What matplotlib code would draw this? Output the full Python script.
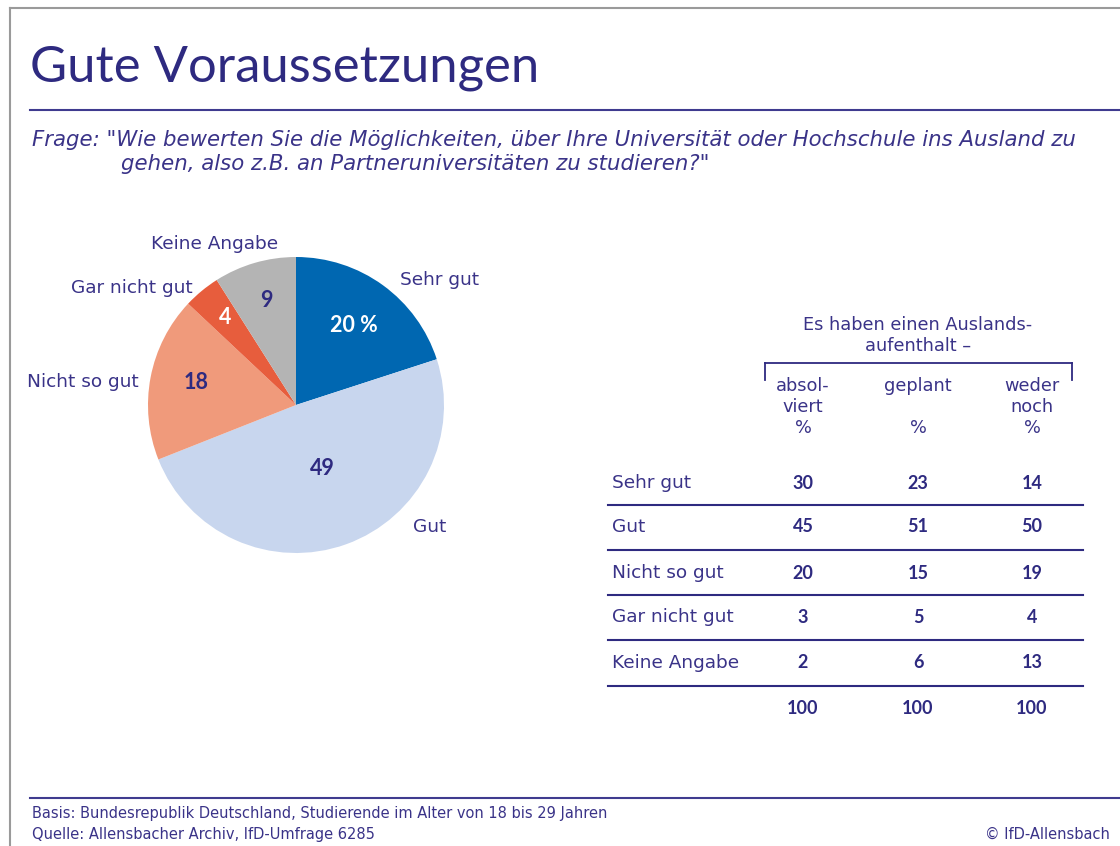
import matplotlib
matplotlib.use("Agg")
import matplotlib.pyplot as plt
from matplotlib.lines import Line2D

# ---------------- data ----------------
categories = ["Sehr gut", "Gut", "Nicht so gut", "Gar nicht gut", "Keine Angabe"]
pie_values = [20, 49, 18, 4, 9]
pie_labels_inner = ["20 %", "49", "18", "4", "9"]
col_headers = [["absol-", "viert", "%"], ["geplant", "", "%"], ["weder", "noch", "%"]]
absolviert = [30, 45, 20, 3, 2]
geplant = [23, 51, 15, 5, 6]
weder_noch = [14, 50, 19, 4, 13]
totals = [100, 100, 100]

pie_colors = ["#0067b1", "#c8d6ee", "#f09a7b", "#e75d3d", "#b4b4b4"]
inner_text_colors = ["white", "#2e2a80", "#2e2a80", "white", "#2e2a80"]
TXT = "#3a3388"
DARK = "#2e2a80"
REG = "DejaVu Sans"
NUM = "Lato"

W, H = 1120, 846
fig = plt.figure(figsize=(W / 100, H / 100), dpi=100)
plt.rcParams["font.family"] = ["DejaVu Sans"]

def fx(x):
    return x / W

def fy(y):
    return 1 - y / H

def text(x, y, s, **kw):
    fig.text(fx(x), fy(y), s, **kw)

def hline(x0, x1, y, color=DARK, lw=1.5):
    fig.add_artist(Line2D([fx(x0), fx(x1)], [fy(y), fy(y)], color=color, lw=lw))

def vline(x, y0, y1, color=DARK, lw=1.5):
    fig.add_artist(Line2D([fx(x), fx(x)], [fy(y0), fy(y1)], color=color, lw=lw))

# outer frame
hline(10, W, 8, color="#9a9a9a", lw=1.5)
vline(10, 8, H, color="#9a9a9a", lw=1.5)

# title
text(30, 68, "Gute Voraussetzungen", fontsize=36.5, color=DARK, va="center", ha="left",
     family="Lato", fontweight="normal")
hline(30, W, 110, color="#3f3b8f", lw=1.5)

# question
text(32, 140, 'Frage: "Wie bewerten Sie die Möglichkeiten, über Ihre Universität oder Hochschule ins Ausland zu',
     fontsize=15.3, style="italic", color=TXT, va="center", family=REG)
text(121, 164, 'gehen, also z.B. an Partneruniversitäten zu studieren?"',
     fontsize=15.3, style="italic", color=TXT, va="center", family=REG)

# ---------------- pie ----------------
cx, cy, r = 296, 405, 148
ax = fig.add_axes([fx(cx - r), fy(cy + r), 2 * r / W, 2 * r / H])
wedges, _ = ax.pie(pie_values, colors=pie_colors, startangle=90, counterclock=False,
                   radius=1, wedgeprops=dict(linewidth=0))
ax.set_xlim(-1, 1)
ax.set_ylim(-1, 1)
ax.set_aspect("auto")
ax.axis("off")

inner_pos = [(354, 325), (322, 468), (196, 382), (225, 318), (266, 300)]
for (px, py), s, c in zip(inner_pos, pie_labels_inner, inner_text_colors):
    text(px, py, s, fontsize=15.5, fontweight="bold", color=c, ha="center", va="center",
         family=NUM)

outer_pos = [(440, 280), (430, 527), (83, 382), (132, 288), (215, 244)]
for (px, py), s in zip(outer_pos, categories):
    text(px, py, s, fontsize=13.3, color=TXT, ha="center", va="center", family=REG)

# ---------------- table ----------------
text(918, 325, "Es haben einen Auslands-", fontsize=12.8, color=TXT,
     ha="center", va="center", family=REG)
text(918, 346, "aufenthalt –", fontsize=12.8, color=TXT,
     ha="center", va="center", family=REG)
hline(765, 1072, 363, lw=1.3)
vline(765, 363, 380, lw=1.3)
vline(1072, 363, 380, lw=1.3)

col_x = [803, 918, 1032]
head_y = [386, 407, 428]
for x, lines in zip(col_x, col_headers):
    for yy, s in zip(head_y, lines):
        if s:
            text(x, yy, s, fontsize=12.8, color=TXT, ha="center", va="center", family=REG)

row_y = [483, 527, 573, 617, 663]
line_y = [505, 550, 595, 640, 686]
for i, (cat, y) in enumerate(zip(categories, row_y)):
    text(612, y, cat, fontsize=13.3, color=TXT, ha="left", va="center", family=REG)
    for x, col in zip(col_x, [absolviert, geplant, weder_noch]):
        text(x, y, str(col[i]), fontsize=13, fontweight="bold", color=DARK,
             ha="center", va="center", family=NUM)
for y in line_y:
    hline(608, 1083, y, lw=1.5)
for x, t in zip(col_x, totals):
    text(x, 708, str(t), fontsize=13, fontweight="bold", color=DARK,
         ha="center", va="center", family=NUM)

# ---------------- footer ----------------
hline(30, W, 798, color="#3f3b8f", lw=1.5)
text(32, 813, "Basis: Bundesrepublik Deutschland, Studierende im Alter von 18 bis 29 Jahren",
     fontsize=10.5, color=TXT, va="center", family=REG)
text(32, 834, "Quelle: Allensbacher Archiv, IfD-Umfrage 6285",
     fontsize=10.5, color=TXT, va="center", family=REG)
text(1110, 834, "© IfD-Allensbach", fontsize=10.5, color=TXT, va="center", ha="right",
     family=REG)

fig.savefig("out.png", dpi=100, facecolor="white")
